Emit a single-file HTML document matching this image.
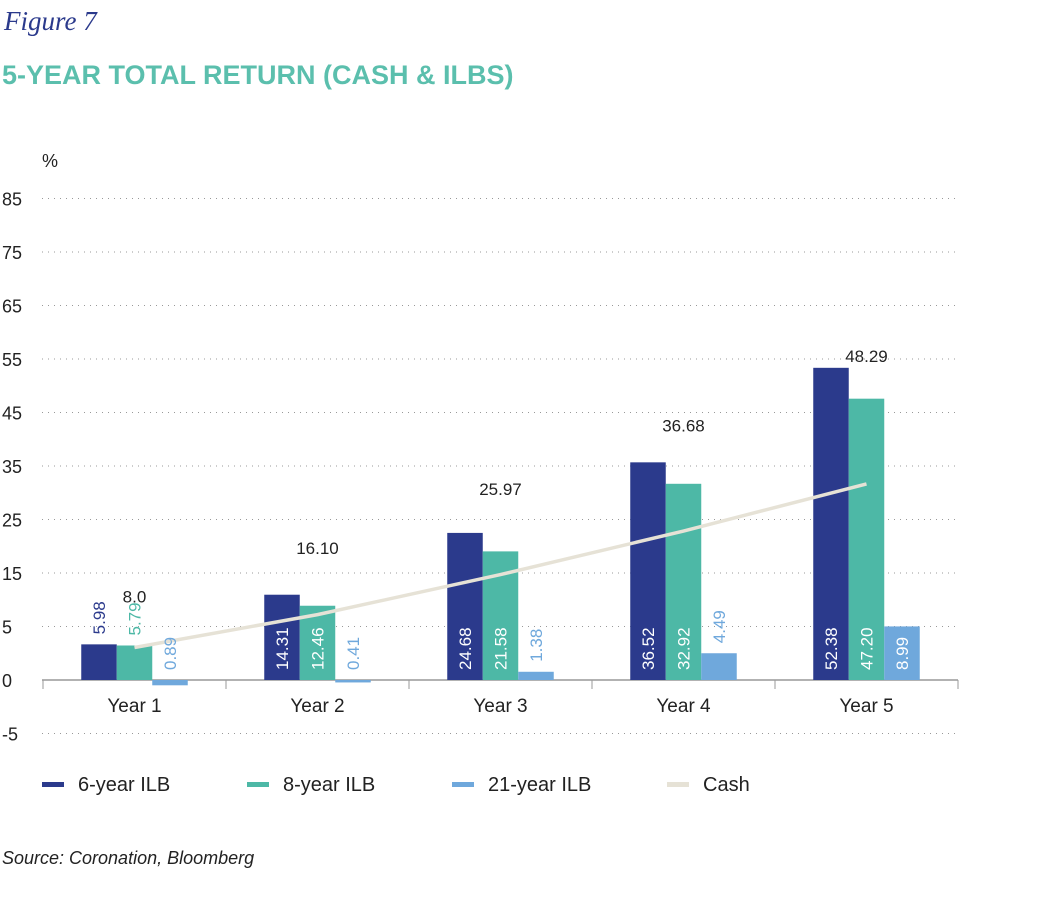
<!DOCTYPE html>
<html><head><meta charset="utf-8"><style>
body{margin:0;background:#fff;width:1063px;height:905px;overflow:hidden;font-family:"Liberation Sans",sans-serif}
</style></head><body>
<svg width="1063" height="905" xmlns="http://www.w3.org/2000/svg">
<text x="4" y="30" font-family="Liberation Serif" font-style="italic" font-size="27" fill="#2b3a8c">Figure 7</text>
<text x="2" y="84" font-size="27" font-weight="bold" fill="#5bbfad">5-YEAR TOTAL RETURN (CASH &amp; ILBS)</text>
<text x="42" y="167" font-size="18" fill="#222">%</text>
<g id="grid"></g><g id="bars"></g><g id="labels"></g>
<text x="2" y="864" font-size="18" font-style="italic" fill="#222">Source: Coronation, Bloomberg</text>
</svg>
<script>
const categories=["Year 1","Year 2","Year 3","Year 4","Year 5"];
const ilb6=[5.98,14.31,24.68,36.52,52.38];
const ilb8=[5.79,12.46,21.58,32.92,47.20];
const ilb21=[-0.89,-0.41,1.38,4.49,8.99];
const ilb21Labels=["0.89","0.41","1.38","4.49","8.99"];
const cash=[8.0,16.10,25.97,36.68,48.29];
const cashLabels=["8.0","16.10","25.97","36.68","48.29"];
const tickLabels=["85","75","65","55","45","35","25","15","5","0","-5"];
const NS="http://www.w3.org/2000/svg";
const x0=43,catW=183,zeroY=680,step=53.5;
const yBar=v=>zeroY-v*5.96;
const yCash=v=>zeroY-v*4.06;
const xc=i=>x0+catW*(i+0.5);
function mk(t,a,p){const e=document.createElementNS(NS,t);for(const k in a)e.setAttribute(k,a[k]);p.appendChild(e);return e;}
const g=document.getElementById('grid'),b=document.getElementById('bars'),L=document.getElementById('labels');
tickLabels.forEach((t,i)=>{
 const y=i<9?zeroY-(9-i)*step:(i==9?zeroY:zeroY+step);
 if(t!=="0"){const l=mk('line',{x1:42,x2:958,y1:y,y2:y,stroke:'#999','stroke-dasharray':'1 5','stroke-width':1},g);
 
 }
 const tx=mk('text',{x:2,y:y+7,'font-size':18,fill:'#222'},g);tx.textContent=t;
 
 
});
const ax=mk('line',{x1:42,x2:958,y1:zeroY,y2:zeroY,stroke:'#999','stroke-width':1.5},g);


for(let i=0;i<=5;i++){const t=mk('line',{x1:x0+catW*i,x2:x0+catW*i,y1:zeroY,y2:zeroY+9,stroke:'#999'},g);

}
const series=[[ilb6,'#2b3a8c','6-year-ilb',null],[ilb8,'#4db8a6','8-year-ilb',null],[ilb21,'#6fa8dc','21-year-ilb',ilb21Labels]];
const bw=35.5;
categories.forEach((c,i)=>{
 const ct=mk('text',{x:xc(i),y:zeroY+32,'font-size':19,'text-anchor':'middle',fill:'#222'},g);ct.textContent=c;
 
 
 series.forEach((s,j)=>{
  const v=s[0][i],x=xc(i)-bw*1.5+j*bw,y=yBar(Math.max(v,0)),h=Math.abs(yBar(v)-zeroY);
  const r=mk('rect',{x:x,y:y,width:bw,height:Math.max(h,1),fill:s[1]},b);
  
  
  const lab=s[3]?s[3][i]:v.toFixed(2);
  const inside=h>45;
  const cx=x+bw/2+6,cy=inside?zeroY-10:y-10;
  const t=mk('text',{x:cx,y:cy,'font-size':17,fill:inside?'#fff':s[1],transform:`rotate(-90 ${cx} ${cy})`},L);
  t.textContent=lab;
  
  
 });
});
const pts=cash.map((v,i)=>xc(i)+','+yCash(v)).join(' ');
const pl=mk('polyline',{points:pts,fill:'none',stroke:'#e6e2d6','stroke-width':3.5},b);


cash.forEach((v,i)=>{const t=mk('text',{x:xc(i),y:yBar(v)-30,'font-size':17,'text-anchor':'middle',fill:'#222'},L);
t.textContent=cashLabels[i];

});
const leg=[['6-year ILB','#2b3a8c',42],['8-year ILB','#4db8a6',247],['21-year ILB','#6fa8dc',452],['Cash','#e6e2d6',667]];
leg.forEach(l=>{const gg=mk('g',{},L);
 
 
 mk('rect',{x:l[2],y:782,width:22,height:5,fill:l[1]},gg);
 const t=mk('text',{x:l[2]+36,y:791,'font-size':20,fill:'#222'},gg);t.textContent=l[0];});
</script>
</body></html>
